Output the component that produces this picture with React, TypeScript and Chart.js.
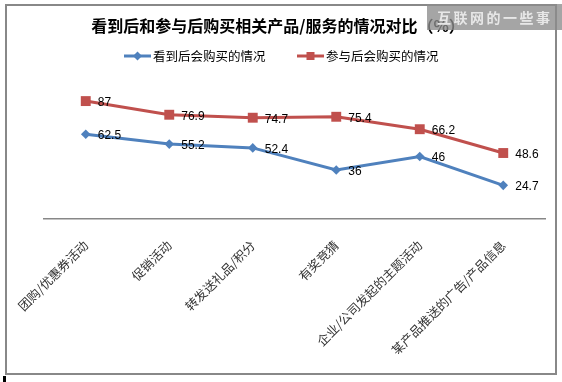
import React, { useEffect, useRef } from "react";
import { Chart, registerables } from "chart.js";

Chart.register(...registerables);

const chartTitle = "看到后和参与后购买相关产品/服务的情况对比（%）";
const watermarkText = "互联网的一些事";
const categories = [
  "团购/优惠券活动",
  "促销活动",
  "转发送礼品/积分",
  "有奖竞猜",
  "企业/公司发起的主题活动",
  "某产品推送的广告/产品信息",
];
const seriesNames = ["看到后会购买的情况", "参与后会购买的情况"];
const seenValues = [62.5, 55.2, 52.4, 36, 46, 24.7];
const joinedValues = [87, 76.9, 74.7, 75.4, 66.2, 48.6];
const seriesColors = ["#4F81BD", "#C0504D"];
const seriesMarkers = ["rectRot", "rect"];
const markerRadius = [4.8, 7];

const CJK = '"Noto Sans CJK SC", "Noto Sans", sans-serif';

const decorPlugin = {
  id: "decor",
  afterDatasetsDraw(chart: any) {
    const ctx = chart.ctx;
    ctx.save();
    ctx.font = '12px "Liberation Sans", Arial, sans-serif';
    ctx.fillStyle = "#000";
    ctx.textBaseline = "middle";
    ctx.textAlign = "left";
    chart.data.datasets.forEach((ds: any, i: number) => {
      const meta = chart.getDatasetMeta(i);
      meta.data.forEach((el: any, j: number) => {
        ctx.fillText(String(ds.data[j]), el.x + 12, el.y + 1.5);
      });
    });
    ctx.restore();
  },
  afterDraw(chart: any) {
    const ctx = chart.ctx;
    ctx.save();
    // title
    ctx.font = `bold 16px ${CJK}`;
    ctx.fillStyle = "#000";
    ctx.textAlign = "center";
    ctx.textBaseline = "middle";
    ctx.fillText(chartTitle, 278, 26);

    // legend
    const legendX = [124, 297];
    seriesNames.forEach((name, i) => {
      const x0 = legendX[i];
      const y = 56;
      ctx.strokeStyle = seriesColors[i];
      ctx.lineWidth = 3;
      ctx.beginPath();
      ctx.moveTo(x0, y);
      ctx.lineTo(x0 + 27, y);
      ctx.stroke();
      ctx.fillStyle = seriesColors[i];
      const cx = x0 + 13.5;
      if (i === 0) {
        ctx.beginPath();
        ctx.moveTo(cx - 4.5, y);
        ctx.lineTo(cx, y - 4.5);
        ctx.lineTo(cx + 4.5, y);
        ctx.lineTo(cx, y + 4.5);
        ctx.closePath();
        ctx.fill();
      } else {
        ctx.fillRect(cx - 4, y - 4, 8, 8);
      }
      ctx.fillStyle = "#000";
      ctx.font = `12.5px ${CJK}`;
      ctx.textAlign = "left";
      ctx.fillText(name, x0 + 29, y + 0.5);
    });

    // watermark
    ctx.fillStyle = "rgba(140,140,140,0.78)";
    ctx.fillRect(427, 4, 135, 26);
    ctx.fillStyle = "rgba(235,235,235,0.95)";
    ctx.font = `bold 14px ${CJK}`;
    ctx.textAlign = "left";
    (ctx as any).letterSpacing = "2.5px";
    ctx.fillText(watermarkText, 437, 18);
    ctx.restore();
  },
};

export default function App() {
  const ref = useRef<HTMLCanvasElement | null>(null);
  useEffect(() => {
    if (!ref.current) return;
    const chart = new Chart(ref.current, {
      type: "line",
      data: {
        labels: categories,
        datasets: [seenValues, joinedValues].map((vals, i) => ({
          label: seriesNames[i],
          data: vals,
          borderColor: seriesColors[i],
          backgroundColor: seriesColors[i],
          borderWidth: 3,
          pointStyle: seriesMarkers[i] as any,
          pointRadius: markerRadius[i],
          pointBorderWidth: 0,
          pointBackgroundColor: seriesColors[i],
          tension: 0,
          clip: false as any,
        })),
      },
      options: {
        responsive: false,
        animation: false,
        events: [],
        layout: { padding: { left: 44, right: 17, top: 83.5, bottom: 28 } },
        plugins: {
          legend: { display: false },
          title: { display: false },
          tooltip: { enabled: false },
        },
        scales: {
          x: {
            type: "category",
            offset: true,
            grid: { display: false },
            border: { display: true, color: "#878787", width: 1.5 },
            ticks: {
              minRotation: 45,
              maxRotation: 45,
              autoSkip: false,
              padding: 11,
              color: "#333",
              font: { family: CJK, size: 12.5 },
            },
          },
          y: {
            display: false,
            min: 0,
            max: 100,
          },
        },
      },
      plugins: [decorPlugin],
    });
    return () => chart.destroy();
  }, []);

  return (
    <div style={{ position: "absolute", left: 0, top: 0, width: 562, height: 382, background: "#fff" }}>
      <div
        style={{
          position: "absolute",
          left: 5,
          top: 4,
          width: 548,
          height: 367,
          border: "2px solid #888",
        }}
      />
      <canvas ref={ref} width={562} height={382} style={{ position: "absolute", left: 0, top: 0 }} />
      <div style={{ position: "absolute", left: 3, top: 376, width: 3, height: 6, background: "#000" }} />
    </div>
  );
}
